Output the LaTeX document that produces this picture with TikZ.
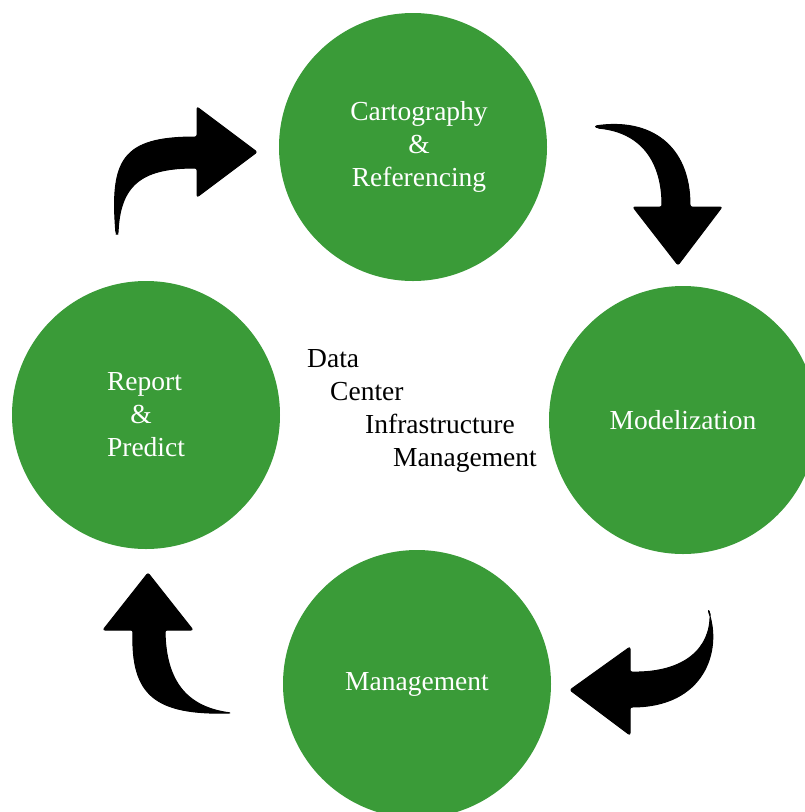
\documentclass[tikz,border=0pt]{standalone}
\usepackage{fontspec}
\setmainfont{Liberation Serif}
\usetikzlibrary{positioning}

\definecolor{stagegreen}{RGB}{58,155,56}

\begin{document}
\begin{tikzpicture}[x=1pt, y=-1pt,
  font=\fontsize{27.5}{33}\selectfont,
  stage/.style={circle, fill=stagegreen, minimum size=268pt, inner sep=0pt,
                text=white, align=center},
  curvearrow/.style={fill=black, draw=black, line width=1pt, line join=round,
                     rounded corners=2pt},
]
\clip (0,0) rectangle (805,812);

% Stages of the cycle
\node[stage] (cart) at (413,147)
  {\hspace*{12pt}Cartography\\\hspace*{12pt}\&\\\hspace*{12pt}Referencing};
\node[stage] (model) at (683,420) {Modelization};
\node[stage] (manage) at (417,684) {Management};
\node[stage, align=left] (report) at (146,415)
  {Report\\\hspace*{0.85em}\&\\Predict};

% Title in the middle, stepped to the right
\node[anchor=north west, inner sep=0pt, align=left] (dcim) at (307,349)
  {Data\\\hspace*{23pt}Center\\\hspace*{58pt}Infrastructure\\\hspace*{86pt}Management};

% Curved arrows between the stages
% report -> cart
\fill[curvearrow] (116,234) .. controls (110,160) and (122,137) .. (197,137)
  -- (197,107) -- (257,152) -- (197,197) -- (197,168)
  .. controls (145,168) and (120,182) .. (118,234) -- cycle;
% cart -> model
\fill[curvearrow] (595,126) .. controls (650,118) and (690,145) .. (690,207)
  -- (722,207) -- (678,265) -- (633,207) -- (662,207)
  .. controls (662,160) and (640,132) .. (597,128) -- cycle;
% model -> manage
\fill[curvearrow] (708,610) .. controls (722,650) and (705,707) .. (630,707)
  -- (630,735) -- (570,690) -- (630,647) -- (630,672)
  .. controls (685,673) and (711,648) .. (710,612) -- cycle;
% manage -> report
\fill[curvearrow] (133,630) .. controls (131,695) and (155,715) .. (231,713)
  .. controls (195,708) and (166,690) .. (165,630)
  -- (193,630) -- (148,573) -- (103,630) -- cycle;

\end{tikzpicture}
\end{document}
